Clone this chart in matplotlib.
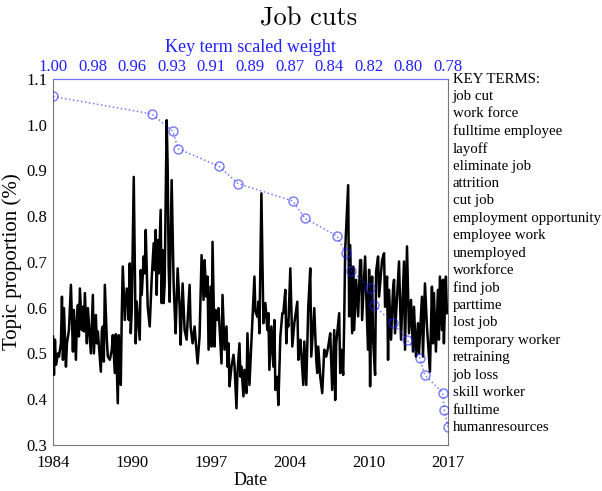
import matplotlib
matplotlib.use('Agg')
import matplotlib.pyplot as plt
import matplotlib.transforms as mtransforms
import numpy as np

plt.rc('font', family='Liberation Serif', size=12)

# topic proportion (month offset from Jan 1984, value)
month = [0, 1, 2, 3, 5, 6, 8, 9, 10, 11, 13, 14, 16, 18, 20, 21, 23, 24, 25, 26,
         27, 29, 30, 31, 32, 34, 35, 36, 38, 40, 41, 43, 44, 45, 48, 49, 50, 51, 52, 54,
         55, 57, 59, 60, 62, 63, 65, 66, 67, 68, 69, 70, 72, 74,
         75, 76, 77, 78, 79, 81, 83, 84, 87, 88, 89, 91, 92, 93, 95, 97, 99, 101, 102, 103,
         104, 105, 106, 108, 109, 110, 111, 112, 114, 115, 116, 117, 119, 121, 122, 123, 125, 127, 128, 130,
         132, 134, 137, 138, 140, 142, 143, 145, 147, 149, 151, 152,
         153, 154, 155, 156, 158, 159, 160, 162, 163, 165, 166, 169, 170, 172, 174, 175, 176, 177, 179, 181,
         182, 184, 185, 187, 188, 189, 191, 192, 194, 195, 197, 200, 202, 203, 205, 206, 207, 209, 211, 213,
         215, 216, 217, 219, 221, 222, 223, 225, 226, 228, 230,
         231, 233, 234, 235, 236, 238, 240, 242, 245, 246, 248, 249, 251, 252, 254, 256, 258, 259, 262, 264,
         265, 266, 268, 270, 272, 274, 276, 278, 280, 282, 283, 284, 287, 288, 289, 291, 292, 293, 296, 297,
         298, 300, 301, 302, 304, 306, 308,
         309, 310, 313, 315, 316, 317, 318, 319, 320, 321, 323, 324, 326, 327, 330, 332, 333, 335, 336, 337,
         339, 341, 342, 343, 347, 349, 352, 353, 355, 357, 359, 361, 362, 364, 366, 367, 370, 371, 373, 375,
         378, 380, 381, 382, 384, 386, 387, 388, 390, 391, 392, 393, 394, 395]
topic = [0.537, 0.453, 0.530, 0.475, 0.500, 0.493, 0.522, 0.624, 0.486, 0.599, 0.471, 0.522, 0.551, 0.650, 0.504, 0.595, 0.486, 0.573, 0.606, 0.537,
         0.642, 0.551, 0.602, 0.548, 0.632, 0.522, 0.599, 0.566, 0.500, 0.628, 0.500, 0.584, 0.522, 0.548, 0.460, 0.551, 0.559, 0.482, 0.650, 0.530,
         0.493, 0.486, 0.508, 0.540, 0.457, 0.542, 0.391, 0.540, 0.442, 0.431, 0.588, 0.690, 0.573, 0.642,
         0.639, 0.573, 0.697, 0.544, 0.595, 0.886, 0.522, 0.613, 0.530, 0.682, 0.628, 0.712, 0.675, 0.770, 0.602, 0.559, 0.664, 0.741, 0.682, 0.770,
         0.628, 0.748, 0.675, 0.814, 0.610, 0.726, 0.610, 0.653, 1.010, 0.908, 0.690, 0.613, 0.879, 0.653, 0.595, 0.544, 0.686, 0.602, 0.519, 0.653,
         0.551, 0.530, 0.650, 0.559, 0.522, 0.559, 0.530, 0.478, 0.537, 0.715, 0.617, 0.704,
         0.661, 0.624, 0.668, 0.508, 0.646, 0.515, 0.744, 0.515, 0.595, 0.573, 0.599, 0.478, 0.628, 0.508, 0.559, 0.471, 0.522, 0.428, 0.471, 0.497,
         0.475, 0.380, 0.457, 0.522, 0.449, 0.471, 0.406, 0.464, 0.413, 0.544, 0.431, 0.573, 0.668, 0.591, 0.580, 0.613, 0.544, 0.850, 0.566, 0.610,
         0.551, 0.588, 0.464, 0.559, 0.471, 0.573, 0.420, 0.449, 0.387, 0.537, 0.588,
         0.588, 0.639, 0.522, 0.573, 0.559, 0.686, 0.515, 0.566, 0.613, 0.486, 0.530, 0.500, 0.431, 0.526, 0.431, 0.602, 0.686, 0.493, 0.599, 0.486,
         0.457, 0.515, 0.449, 0.413, 0.508, 0.493, 0.515, 0.544, 0.420, 0.551, 0.398, 0.522, 0.588, 0.457, 0.508, 0.453, 0.566, 0.726, 0.868, 0.581,
         0.737, 0.544, 0.690, 0.551, 0.661, 0.581, 0.704,
         0.704, 0.573, 0.712, 0.566, 0.508, 0.683, 0.428, 0.602, 0.668, 0.530, 0.453, 0.679, 0.712, 0.624, 0.704, 0.719, 0.602, 0.668, 0.486, 0.639,
         0.530, 0.642, 0.661, 0.544, 0.701, 0.530, 0.701, 0.508, 0.734, 0.544, 0.617, 0.504, 0.602, 0.493, 0.566, 0.500, 0.624, 0.493, 0.653, 0.559,
         0.460, 0.646, 0.522, 0.632, 0.504, 0.639, 0.530, 0.668, 0.551, 0.661, 0.522, 0.602, 0.668, 0.588]

terms = ['job cut', 'work force', 'fulltime employee', 'layoff', 'eliminate job',
         'attrition', 'cut job', 'employment opportunity', 'employee work', 'unemployed',
         'workforce', 'find job', 'parttime', 'lost job', 'temporary worker',
         'retraining', 'job loss', 'skill worker', 'fulltime', 'humanresources']
weights = [1.000, 0.944, 0.932, 0.929, 0.906, 0.895, 0.864, 0.857, 0.839, 0.834,
           0.831, 0.820, 0.818, 0.807, 0.799, 0.792, 0.789, 0.779, 0.778, 0.776]

year_labels = ['1984', '1990', '1997', '2004', '2010', '2017']
weight_labels = ['1.00', '0.98', '0.96', '0.93', '0.91', '0.89', '0.87', '0.84', '0.82', '0.80', '0.78']

dates = 1984 + np.array(month) / 12.0
# one row per key term between the 1.1 and 0.3 gridlines
rows = np.linspace(1.1, 0.3, len(terms) + 2)[1:-1]

blue = '#2020ff'
fig = plt.figure(figsize=(6.02, 4.91), dpi=100)
ax = fig.add_axes([0.088, 0.094, 0.656, 0.745])
ax.plot(dates, topic, color='k', lw=1.8, zorder=3)
ax.set_xlim(1984, 2017)
ax.set_ylim(0.3, 1.1)
ax.set_xticks(np.linspace(1984, 2017, 6))
ax.set_xticklabels(year_labels)
ax.set_yticks(np.arange(0.3, 1.15, 0.1))
ax.set_yticklabels(['%.1f' % v for v in np.arange(0.3, 1.15, 0.1)])
ax.tick_params(length=0, labelsize=12)
ax.tick_params(axis='x', pad=7)
ax.tick_params(axis='y', pad=4)
for s in ax.spines.values():
    s.set_color('#777777')
ax.set_xlabel('Date', fontsize=13, labelpad=1)
ax.set_ylabel('Topic proportion (%)', fontsize=15, labelpad=3)

ax2 = ax.twiny()
ax2.set_xlim(1.0, 0.776)
ax2.set_ylim(0.3, 1.1)
ax2.plot(weights, rows, ls=':', marker='o', mfc='none', color=blue,
         alpha=0.6, ms=6.5, lw=1.1, zorder=4)
ax2.set_xticks(np.linspace(1.0, 0.776, 11))
ax2.set_xticklabels(weight_labels, color=blue)
ax2.tick_params(length=0, pad=3, labelsize=12)
for s in ax2.spines.values():
    s.set_visible(False)
ax2.spines['top'].set_visible(True)
ax2.spines['top'].set_color('#7070ff')
ax2.set_xlabel('Key term scaled weight', color=blue, fontsize=13, labelpad=5)

trans = mtransforms.blended_transform_factory(ax.transAxes, ax.transData)
ax.text(1.012, 1.1, 'KEY TERMS:', transform=trans, va='center', ha='left', fontsize=10.7)
for term, r in zip(terms, rows):
    ax.text(1.012, r, term, transform=trans, va='center', ha='left', fontsize=10.7)

fig.text(0.513, 0.962, 'Job cuts', ha='center', va='center', fontsize=19, family='cmr10')

plt.savefig('out.png', dpi=100)
